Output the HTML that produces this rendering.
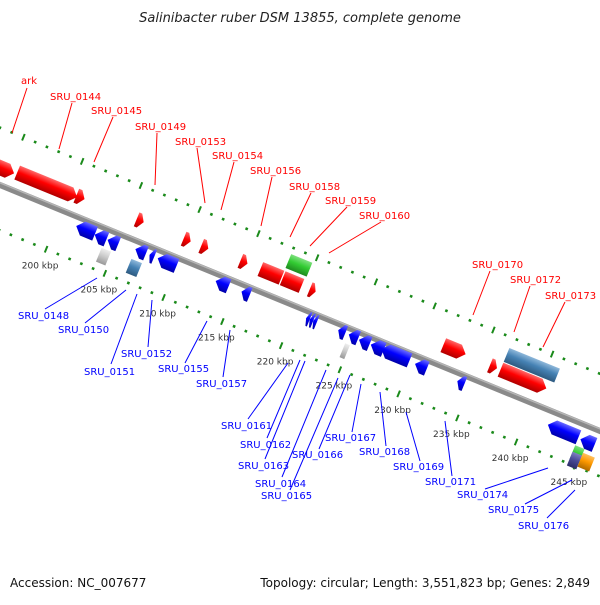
<!DOCTYPE html>
<html><head><meta charset="utf-8"><style>
html,body{margin:0;padding:0;background:#fff;}
svg text{font-family:"DejaVu Sans","Liberation Sans",sans-serif;}
</style></head><body>
<svg id="chart" width="600" height="600" viewBox="0 0 600 600" xmlns="http://www.w3.org/2000/svg">
<defs>
<linearGradient id="g-red" x1="0" y1="0" x2="0" y2="1"><stop offset="0" stop-color="#ff6a6a"/><stop offset="0.45" stop-color="#ff0000"/><stop offset="1" stop-color="#b00000"/></linearGradient>
<linearGradient id="g-blue" x1="0" y1="0" x2="0" y2="1"><stop offset="0" stop-color="#6a6aff"/><stop offset="0.45" stop-color="#0000ff"/><stop offset="1" stop-color="#0000a8"/></linearGradient>
<linearGradient id="g-steel" x1="0" y1="0" x2="0" y2="1"><stop offset="0" stop-color="#8fb8da"/><stop offset="0.45" stop-color="#4682b4"/><stop offset="1" stop-color="#2e5a80"/></linearGradient>
<linearGradient id="g-gray" x1="0" y1="0" x2="0" y2="1"><stop offset="0" stop-color="#eee"/><stop offset="0.45" stop-color="#ccc"/><stop offset="1" stop-color="#999"/></linearGradient>
<linearGradient id="g-green" x1="0" y1="0" x2="0" y2="1"><stop offset="0" stop-color="#7fe07f"/><stop offset="0.45" stop-color="#33cc33"/><stop offset="1" stop-color="#1f8a1f"/></linearGradient>
<linearGradient id="g-orange" x1="0" y1="0" x2="0" y2="1"><stop offset="0" stop-color="#ffc060"/><stop offset="0.45" stop-color="#ff9900"/><stop offset="1" stop-color="#b06a00"/></linearGradient>
<linearGradient id="g-purple" x1="0" y1="0" x2="0" y2="1"><stop offset="0" stop-color="#8080c0"/><stop offset="0.45" stop-color="#4b4b99"/><stop offset="1" stop-color="#2c2c66"/></linearGradient>
</defs>
<text x="300" y="22" text-anchor="middle" font-size="13" font-style="italic" fill="#222">Salinibacter ruber DSM 13855, complete genome</text>
<g id="map" transform="translate(120.8,234.5) rotate(22.3)"></g>
<g id="labels"></g>
<text x="10" y="587" font-size="12" fill="#111">Accession: NC_007677</text>
<text x="590" y="587" text-anchor="end" font-size="12" fill="#111">Topology: circular; Length: 3,551,823 bp; Genes: 2,849</text>
</svg>
<script>
// gene data
const geneStart = [193.0,195.6,200.6,205.7,209.7,211.2,214.5,216.2,218.1,218.0,220.4,231.8,235.8,236.7,236.7,
  201.5,203.1,204.2,204.0,206.5,206.5,207.7,208.4,213.3,215.5,221.0,221.3,221.6,223.7,224.6,225.5,226.5,227.4,230.3,224.6,233.9,241.8,244.6,244.4,244.4,245.2];
const geneEnd   = [195.4,200.7,201.3,206.3,210.3,211.8,215.1,218.0,219.7,219.8,220.9,233.7,236.4,241.0,240.6,
  203.1,204.1,205.1,204.8,207.4,207.4,208.1,210.0,214.4,216.2,221.3,221.6,221.9,224.3,225.4,226.4,227.6,229.8,231.3,225.0,234.5,244.4,245.8,245.2,245.2,246.2];
const geneRow   = [-16,-18,-19,-20,-20,-20,-21,-21,-21,-39,-21,-20,-19,-35,-19,
  9,10,10,27,26,8,8,8,7,7,7,7,7,6,6,7,7,7,8,23,8,14,15,30,37,34];
const geneStrand= [1,1,1,1,1,1,1,0,0,0,1,1,1,0,1,
  -1,-1,-1,0,0,-1,-1,-1,-1,-1,-1,-1,-1,-1,-1,-1,-1,-1,-1,0,-1,-1,-1,0,0,0];
const geneColor = ['red','red','red','red','red','red','red','red','red','green','red','red','red','steel','red',
  'blue','blue','blue','gray','steel','blue','blue','blue','blue','blue','blue','blue','blue','blue','blue','blue','blue','blue','blue','gray','blue','blue','blue','green','purple','orange'];
const tickMin = 185, tickMax = 252;
const upperTrackV = -53, lowerTrackV = 42;
const majorTicks = [190,195,200,205,210,215,220,225,230,235,240,245,250];
const majorTickLabels = ['190 kbp','195 kbp','200 kbp','205 kbp','210 kbp','215 kbp','220 kbp','225 kbp','230 kbp','235 kbp','240 kbp','245 kbp','250 kbp'];
// labels (screen coordinates)
const labelText = ['ark','SRU_0144','SRU_0145','SRU_0149','SRU_0153','SRU_0154','SRU_0156','SRU_0158','SRU_0159','SRU_0160','SRU_0170','SRU_0172','SRU_0173',
 'SRU_0148','SRU_0150','SRU_0151','SRU_0152','SRU_0155','SRU_0157','SRU_0161','SRU_0162','SRU_0163','SRU_0164','SRU_0165','SRU_0166','SRU_0167','SRU_0168','SRU_0169','SRU_0171','SRU_0174','SRU_0175','SRU_0176'];
const labelX = [21,50,91,135,175,212,250,289,325,359,472,510,545, 18,58,84,121,158,196,221,240,238,255,261,292,325,359,393,425,457,488,518];
const labelY = [84,100,114,130,145,159,174,190,204,219,268,283,299, 319,333,375,357,372,387,429,448,469,487,499,458,441,455,470,485,498,513,529];
const leadX1 = [27,72,113,157,197,234,272,311,347,381,490,530,565, 45,85,111,148,185,223,248,267,265,282,290,319,352,386,420,452,485,525,547];
const leadY1 = [88,103,117,133,148,162,177,193,207,222,271,286,302, 309,323,364,347,363,377,419,438,459,477,490,449,432,446,461,476,489,504,518];
const leadX2 = [12,59,94,155,205,221,261,290,310,329,473,514,543, 97,126,137,152,207,230,288,300,305,326,338,350,361,380,406,445,548,572,575];
const leadY2 = [133,149,162,185,203,210,226,237,246,253,315,332,347, 278,290,294,300,321,330,363,360,361,370,378,375,384,392,412,421,468,480,490];

const NS='http://www.w3.org/2000/svg';
const map=document.getElementById('map');
const labels=document.getElementById('labels');
const PX_PER_KBP=12.7, ORIGIN_KBP=205;
function xScale(k){return (k-ORIGIN_KBP)*PX_PER_KBP;}
function mk(tag,attrs,parent){const e=document.createElementNS(NS,tag);for(const k in attrs)e.setAttribute(k,attrs[k]);parent.appendChild(e);return e;}

// tracks
for(const v of [upperTrackV,lowerTrackV]){
  for(let k=tickMin;k<=tickMax;k++){
    const major=(k%5===0);
    const t=mk('line',{x1:xScale(k),x2:xScale(k),y1:v-(major?3.5:1.3),y2:v+(major?3.5:1.3),stroke:'#1a8a1a','stroke-width':major?2:2.6},map);
    
    
  }
}
// backbone
const bb=mk('line',{x1:xScale(175),x2:xScale(260),y1:0,y2:0,stroke:'#8a8a8a','stroke-width':6},map);


mk('line',{x1:xScale(175),x2:xScale(260),y1:-2,y2:-2,stroke:'#b5b5b5','stroke-width':1.5},map);

// tick labels (drawn in screen space)
const ang=22.3*Math.PI/180, c=Math.cos(ang), s=Math.sin(ang);
function toScreen(u,v){return [120.8+u*c-v*s, 234.5+u*s+v*c];}
majorTicks.forEach((k,i)=>{
  const p=toScreen(xScale(k),lowerTrackV);
  const t=mk('text',{x:p[0]-6,y:p[1]+19,'text-anchor':'middle','font-size':9,fill:'#333'},labels);
  t.textContent=majorTickLabels[i];
  
  
});

// genes
for(let i=0;i<geneStart.length;i++){
  const x1=xScale(geneStart[i]), x2=xScale(geneEnd[i]), v=geneRow[i], h=15;
  const L=x2-x1, head=Math.min(7,L*0.6);
  let pts;
  if(geneStrand[i]===1) pts=[[x1,v-h/2],[x2-head,v-h/2],[x2,v],[x2-head,v+h/2],[x1,v+h/2]];
  else if(geneStrand[i]===-1) pts=[[x2,v-h/2],[x1+head,v-h/2],[x1,v],[x1+head,v+h/2],[x2,v+h/2]];
  else pts=[[x1,v-h/2],[x2,v-h/2],[x2,v+h/2],[x1,v+h/2]];
  const g=mk('polygon',{points:pts.map(p=>p.join(',')).join(' '),fill:'url(#g-'+geneColor[i]+')'},map);
  
  
}

// gene labels
for(let i=0;i<labelText.length;i++){
  const red=i<13, col=red?'#ff0000':'#0000ff';
  const ln=mk('line',{x1:leadX1[i],y1:leadY1[i],x2:leadX2[i],y2:leadY2[i],stroke:col,'stroke-width':1},labels);
  
  
  const t=mk('text',{x:labelX[i],y:labelY[i],'font-size':10,fill:col},labels);
  t.textContent=labelText[i];
  
  
}
</script>
</body></html>
